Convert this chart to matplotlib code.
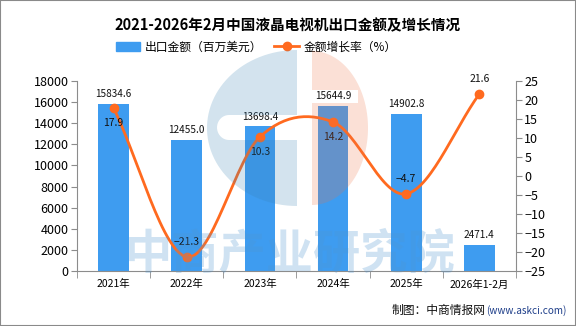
import matplotlib
matplotlib.use("Agg")
import matplotlib.pyplot as plt
import numpy as np
from matplotlib.patches import Rectangle, Polygon, Patch
from matplotlib.lines import Line2D

plt.rcParams['font.family'] = ['Noto Sans CJK SC', 'DejaVu Sans']
plt.rcParams['axes.unicode_minus'] = False

categories = ["2021年", "2022年", "2023年", "2024年", "2025年", "2026年1-2月"]
export_value = [15834.6, 12455.0, 13698.4, 15644.9, 14902.8, 2471.4]
growth_rate = [17.9, -21.3, 10.3, 14.2, -4.7, 21.6]
left_ticks = list(range(0, 18001, 2000))
right_ticks = list(range(-25, 26, 5))

bar_color = "#3e9cf0"
line_color = "#ff6a1f"
axis_color = "#8c8c8c"

W, H = 576, 326
fig = plt.figure(figsize=(W / 100, H / 100), dpi=100)
fig.patches.append(Rectangle((0, 0), 1, 1, transform=fig.transFigure, fill=False,
                             edgecolor="#8a8a8a", linewidth=1.5))
ax = fig.add_axes([0.1337, 0.1687, 0.7621, 0.5828])
ax2 = ax.twinx()

x = np.arange(len(categories))
ax.bar(x, export_value, width=0.42, color=bar_color, zorder=2)
for xi, v in zip(x, export_value):
    ax.text(xi, v + 450, f"{v:.1f}", ha="center", va="bottom", fontsize=7.2, color="#111111", zorder=5)

ax.set_xlim(-0.5, len(categories) - 0.5)
ax.set_ylim(0, 18000)
ax.set_yticks(left_ticks)
ax.set_yticklabels([str(t) for t in left_ticks], fontsize=9)
ax.set_xticks(x)
ax.set_xticklabels(categories, fontsize=7.5)
ax.tick_params(axis="x", length=0, pad=6)
ax.set_xticks(np.arange(-0.5, len(categories), 1), minor=True)
ax.tick_params(axis="x", which="minor", length=5, color=axis_color)
ax.tick_params(axis="y", length=4, color=axis_color, pad=2)

ax2.set_ylim(-25, 25)
ax2.set_yticks(right_ticks)
ax2.set_yticklabels([str(t).replace("-", "−") for t in right_ticks], fontsize=9)
ax2.tick_params(axis="y", length=4, color=axis_color, pad=2)

for a in (ax, ax2):
    a.spines["top"].set_visible(False)
    for s in ("left", "right", "bottom"):
        a.spines[s].set_color(axis_color)
ax.spines["right"].set_visible(False)
ax2.spines["left"].set_visible(False)
ax2.spines["bottom"].set_visible(False)

# smooth line (Catmull-Rom through the data points)
def catmull(xs, ys, n=30):
    xs = np.asarray(xs, float); ys = np.asarray(ys, float)
    px = np.concatenate([[2*xs[0]-xs[1]], xs, [2*xs[-1]-xs[-2]]])
    py = np.concatenate([[2*ys[0]-ys[1]], ys, [2*ys[-1]-ys[-2]]])
    ox, oy = [], []
    for i in range(1, len(px) - 2):
        t = np.linspace(0, 1, n, endpoint=False)
        for arr, out in ((px, ox), (py, oy)):
            p0, p1, p2, p3 = arr[i-1], arr[i], arr[i+1], arr[i+2]
            out.extend(0.5*((2*p1) + (-p0+p2)*t + (2*p0-5*p1+4*p2-p3)*t**2 + (-p0+3*p1-3*p2+p3)*t**3))
    ox.append(xs[-1]); oy.append(ys[-1])
    return np.array(ox), np.array(oy)

sx, sy = catmull(x, growth_rate)
ax2.plot(sx, sy, color=line_color, linewidth=2, zorder=4)
ax2.plot(x, growth_rate, "o", color=line_color, markersize=6, zorder=5)
offsets = [-1, 1, -1, -1, 1, 1]
for xi, v, o in zip(x, growth_rate, offsets):
    ax2.text(xi, v + o*2.6, f"{v:.1f}".replace("-", "−"), ha="center",
             va="bottom" if o > 0 else "top", fontsize=7.5, color="#111111", zorder=6)

# ---- decorative logo watermark (overlay in pixel coordinates) ----
ov = fig.add_axes([0, 0, 1, 1], zorder=10)
ov.set_xlim(0, W); ov.set_ylim(H, 0); ov.axis("off"); ov.patch.set_alpha(0)

def half_ellipse(cx, cy, a, b, t0, t1, n=60):
    t = np.radians(np.linspace(t0, t1, n))
    return list(zip(cx + a*np.cos(t), cy - b*np.sin(t)))

cx, cy = 297, 128
pts = half_ellipse(cx, cy, 90, 78, 90, 270)
pts += [(cx, 140)]
pts += [(229 + 12*np.cos(a), 127.5 - 12.5*np.sin(a)) for a in np.radians(np.linspace(270, 90, 20))]
pts += [(cx, 115)]
ov.add_patch(Polygon(pts, closed=True, facecolor=(55/255, 128/255, 178/255), alpha=0.22, edgecolor="none"))
cx2 = 312
pts2 = half_ellipse(cx2, cy, 56, 77, 90, -90)
pts2 += [(cx2, 103), (358, 103), (358, 90), (cx2, 90)]
ov.add_patch(Polygon(pts2, closed=True, facecolor=(237/255, 114/255, 69/255), alpha=0.22, edgecolor="none"))

ov.text(290, 254, "中商产业研究院", fontsize=34, color=(80/255, 150/255, 210/255), alpha=0.27,
        ha="center", va="center", fontweight="bold")

fig.text(0.5, 0.923, "2021-2026年2月中国液晶电视机出口金额及增长情况", ha="center", va="center",
         fontsize=10.5, fontweight="bold")

handles = [Patch(color=bar_color, label="出口金额（百万美元）"),
           Line2D([0], [0], color=line_color, marker="o", linewidth=2, markersize=6, label="金额增长率（%）")]
fig.legend(handles=handles, loc="center", bbox_to_anchor=(0.445, 0.856), ncol=2, frameon=False,
           fontsize=8.5, handlelength=2.1, handleheight=0.8, columnspacing=1.0, handletextpad=0.4)

t2 = fig.text(0.983, 0.048, "(www.askci.com)", ha="right", va="center", fontsize=7.2, color="#1f3f8a")
fig.canvas.draw()
bb = t2.get_window_extent()
fig.text(bb.x0 / W, 0.048, "制图：中商情报网", ha="right", va="center", fontsize=8.5, color="#111111")

fig.savefig("out.png", dpi=100)
